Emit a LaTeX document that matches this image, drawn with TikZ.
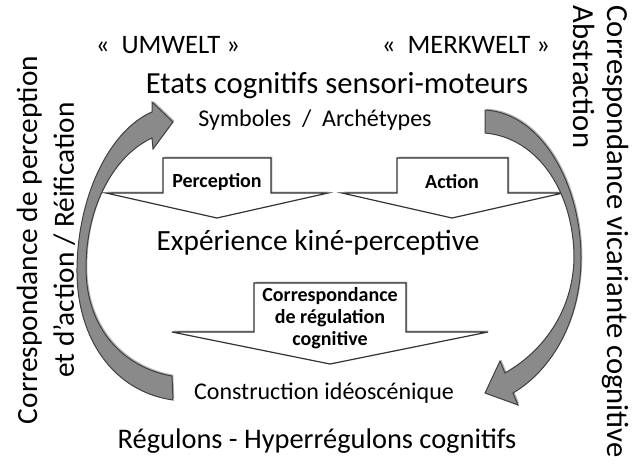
\documentclass[tikz,border=0pt]{standalone}
\usepackage{fontspec}
\setmainfont{Carlito}
\usetikzlibrary{shadows}

\definecolor{arcgrey}{RGB}{138,138,138}
\tikzset{every picture/.style={line width=0.75pt}}
\tikzset{
  blockarrow/.style={draw=black!80, fill=white, line width=0.9pt,
    drop shadow={shadow xshift=1pt, shadow yshift=1pt, fill=black, opacity=0.3}},
  bentarrow/.style={draw=black!75, fill=arcgrey, line width=0.75pt,
    drop shadow={shadow xshift=1pt, shadow yshift=1pt, fill=black, opacity=0.3}},
  bigtxt/.style={font=\fontsize{22}{26}\selectfont, inner sep=0.75pt},
  midtxt/.style={font=\fontsize{18}{21}\selectfont, inner sep=0.75pt},
  lbltxt/.style={font=\fontsize{15}{16.5}\selectfont\bfseries, inner sep=0.75pt},
}

\begin{document}
\begin{tikzpicture}[x=0.75pt,y=0.75pt,yscale=-1,xscale=1]
	\useasboundingbox (0,0) rectangle (634,465);
	
	%Shape: Down Arrow [Perception]
	\draw [blockarrow] (163,158) -- (271,158) -- (271,193) -- (328,193) -- (217,218) -- (106,193) -- (163,193) -- cycle ;
	%Shape: Down Arrow [Action]
	\draw [blockarrow] (397,158) -- (508,158) -- (508,193) -- (563,193) -- (452,218) -- (342,193) -- (397,193) -- cycle ;
	%Shape: Down Arrow [Correspondance]
	\draw [blockarrow] (254,283) -- (406,283) -- (406,332) -- (488,332) -- (330,364) -- (172,332) -- (254,332) -- cycle ;
	
	%Curve Lines: left bent arrow
	\draw [bentarrow] (173,400) .. controls (115,392) and (76,340) .. (77,268) .. controls (78,195) and (110,130) .. (152,112) -- (152,102) -- (173,122) -- (153,149) -- (152,138) .. controls (115,155) and (86,205) .. (86,268) .. controls (86,330) and (125,368) .. (172,376) -- cycle ;
	%Curve Lines: right bent arrow
	\draw [bentarrow] (485,110) .. controls (542,113) and (581,185) .. (581,258) .. controls (581,320) and (552,370) .. (513,393) -- (518,405) -- (485,393) -- (500,361) -- (505,373) .. controls (542,352) and (573,312) .. (574,258) .. controls (574,195) and (540,138) .. (485,133) -- cycle ;
	
	\node [midtxt, font=\fontsize{20}{23}\selectfont] (umwelt) at (168,45) {«\ \ UMWELT »};
	\node [midtxt, font=\fontsize{20}{23}\selectfont] (merkwelt) at (466,45) {«\ \ MERKWELT »};
	\node [bigtxt, font=\fontsize{23}{27}\selectfont] (etats) at (337,86) {Etats cognitifs sensori-moteurs};
	\node [midtxt] (symb) at (315,120) {Symboles \ / \ Archétypes};
	\node [lbltxt] (percep) at (217,182) {Perception};
	\node [lbltxt] (action) at (452,182) {Action};
	\node [bigtxt] (exper) at (318,243) {Expérience kiné-perceptive};
	\node [lbltxt, align=center] (regul) at (330,318) {Correspondance\\de régulation\\cognitive};
	\node [midtxt] (constr) at (324,393) {Construction idéoscénique};
	\node [bigtxt, font=\fontsize{21.3}{25}\selectfont] (regulons) at (317,441) {Régulons - Hyperrégulons cognitifs};
	
	\node [bigtxt, rotate=90, align=center, font=\fontsize{22}{27.5}\selectfont] (reific) at (46,240) {Correspondance de perception\\et d’action / Réification};
	\node [bigtxt, rotate=-90, align=left, anchor=north west, font=\fontsize{23}{25.5}\selectfont] (abstr) at (630,4) {Correspondance vicariante cognitive\\Abstraction};
	
\end{tikzpicture}
\end{document}
